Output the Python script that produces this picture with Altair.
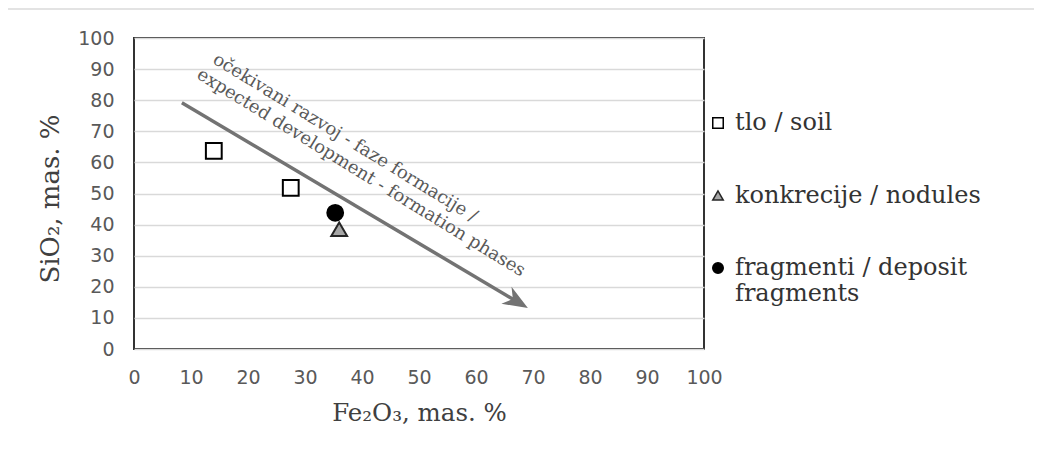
import altair as alt
import pandas as pd

# ---- data ----
categories = ["tlo / soil", "tlo / soil", "konkrecije / nodules", "fragmenti / deposit fragments"]
fe2o3 = [14.0, 27.5, 36.0, 35.3]
sio2 = [63.7, 51.8, 38.5, 43.8]

legend_order = ["tlo / soil", "konkrecije / nodules", "fragmenti / deposit fragments"]
shapes = ["square", "triangle-up", "circle"]
fills = ["#ffffff", "#a6a6a6", "#000000"]
strokes = ["#000000", "#262626", "#000000"]

shaft_x = [8.4, 67.6]
shaft_y = [79.2, 14.8]
tip_x = [69.1]
tip_y = [13.2]

note_lines = ["očekivani razvoj - faze formacije /", "expected development - formation phases"]
note_x = [37.0, 39.8]
note_y = [67.8, 56.6]

ticks = list(range(0, 101, 10))

points = pd.DataFrame({"x": fe2o3, "y": sio2, "cat": categories})
shaft = pd.DataFrame({"x": shaft_x, "y": shaft_y})
tip = pd.DataFrame({"x": tip_x, "y": tip_y})
notes = pd.DataFrame({"x": note_x, "y": note_y, "t": note_lines})

W, H = 570, 311

xscale = alt.Scale(domain=[0, 100], nice=False, zero=False)
yscale = alt.Scale(domain=[0, 100], nice=False, zero=False)

xaxis = alt.Axis(values=ticks, grid=False, ticks=False, domain=False,
                 labelOverlap=False, labelFlush=False,
                 labelFont="DejaVu Sans", labelFontSize=19, labelColor="#595959",
                 labelPadding=19, title="Fe₂O₃, mas. %", titleFont="DejaVu Serif",
                 titleFontSize=24.5, titleFontWeight="normal", titleColor="#404040",
                 titleX=W / 2, titleY=64, titleBaseline="middle", titleAlign="center")
yaxis = alt.Axis(values=ticks, grid=True, gridColor="#d9d9d9", gridWidth=1.5,
                 ticks=False, domain=False, labelOverlap=False, labelFlush=False,
                 labelFont="DejaVu Sans", labelFontSize=19, labelColor="#595959",
                 labelPadding=20, title="SiO₂, mas. %", titleFont="DejaVu Serif",
                 titleFontSize=26, titleFontWeight="normal", titleColor="#404040",
                 titleX=-84, titleY=H / 2 + 5, titleBaseline="middle", titleAlign="center",
                 titleAngle=270)


def xy():
    return dict(x=alt.X("x:Q", scale=xscale, axis=xaxis),
                y=alt.Y("y:Q", scale=yscale, axis=yaxis))


legend = alt.Legend(title=None, orient="none", legendX=572, legendY=73,
                    labelFont="DejaVu Serif", labelFontSize=24, labelColor="#333333",
                    symbolSize=110, symbolStrokeWidth=1.5, rowPadding=48.5, labelLimit=400,
                    labelOffset=5,
                    labelExpr="datum.label == 'fragmenti / deposit fragments' ? ['fragmenti / deposit', 'fragments'] : datum.label")

pts = alt.Chart(points).mark_point(size=250, strokeWidth=2, opacity=1).encode(
    **xy(),
    shape=alt.Shape("cat:N", scale=alt.Scale(domain=legend_order, range=shapes), legend=legend),
    fill=alt.Fill("cat:N", scale=alt.Scale(domain=legend_order, range=fills), legend=legend),
    stroke=alt.Stroke("cat:N", scale=alt.Scale(domain=legend_order, range=strokes), legend=legend),
)

arrow_line = alt.Chart(shaft).mark_line(color="#737373", strokeWidth=3.5, strokeCap="butt").encode(**xy())

arrow_head = alt.Chart(tip).mark_point(
    shape="M0,0 L-2,-0.8 L-1.4,0 L-2,0.8 Z", size=620, filled=True,
    color="#737373", opacity=1, angle=30.6).encode(**xy())

note_text = alt.Chart(notes).mark_text(
    font="DejaVu Serif", fontSize=18, color="#595959", angle=31.5,
    align="center", baseline="middle").encode(**xy(), text="t:N")

top_rule = alt.Chart(tip).mark_rule(color="#e3e3e3", strokeWidth=2).encode(
    x=alt.value(-126), x2=alt.value(902), y=alt.value(-29))

chart = alt.layer(pts, arrow_line, arrow_head, note_text, top_rule).properties(
    width=W, height=H,
    autosize=alt.AutoSizeParams(type="none"),
    padding={"left": 126, "top": 30, "right": 330, "bottom": 92},
).configure_view(stroke="#333333", strokeWidth=2)

chart.save("out.html", embed_options={"renderer": "svg", "actions": False})
